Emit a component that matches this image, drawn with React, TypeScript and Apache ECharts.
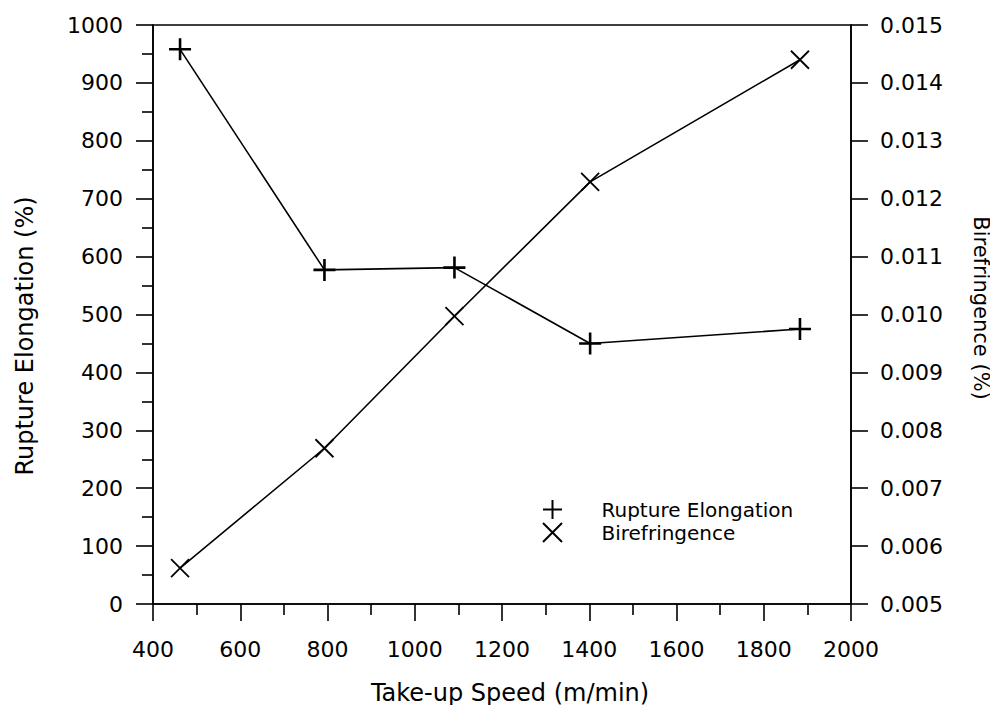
import React, { useEffect, useRef } from "react";
import * as echarts from "echarts";

// Take-up speed (m/min) for each spinning run
const speed = [462, 793, 1091, 1402, 1883];
// Rupture elongation (%) at each speed
const ruptureElongation = [958, 577, 581, 450, 475];
// Birefringence (%) at each speed
const birefringence = [0.00562, 0.00769, 0.00997, 0.01229, 0.0144];

const PLUS = "path://M0,-10 L0,10 M-10,0 L10,0";
const CROSS = "path://M-10,-10 L10,10 M-10,10 L10,-10";
const FONT = "'DejaVu Sans', sans-serif";

export default function App() {
  const ref = useRef<HTMLDivElement>(null);

  useEffect(() => {
    if (!ref.current) return;
    const chart = echarts.init(ref.current, undefined, { renderer: "svg" });
    const axisText = { color: "#000", fontSize: 22, fontFamily: FONT };
    const lineStyle = { color: "#000", width: 1.6 };
    const title = (text: string, x: number, y: number, rotation: number, size: number) => ({
      type: "text",
      x,
      y,
      rotation,
      style: {
        text,
        fill: "#000",
        font: `${size}px ${FONT}`,
        align: "center",
        verticalAlign: "middle",
      },
    });

    chart.setOption({
      animation: false,
      backgroundColor: "#fff",
      textStyle: { fontFamily: FONT },
      grid: {
        left: 153,
        right: 147,
        top: 25,
        bottom: 109,
        show: true,
        borderColor: "#000",
        borderWidth: 1.6,
        backgroundColor: "transparent",
      },
      graphic: [
        title("Take-up Speed (m/min)", 510, 693, 0, 24),
        title("Rupture Elongation (%)", 25, 336, Math.PI / 2, 24),
        title("Birefringence (%)", 981, 308, -Math.PI / 2, 21),
      ],
      legend: {
        orient: "vertical",
        left: 537,
        top: 494,
        itemWidth: 20,
        itemHeight: 19,
        itemGap: 2,
        textStyle: {
          color: "#000",
          fontSize: 20,
          lineHeight: 20,
          fontFamily: FONT,
          padding: [0, 0, 0, 34],
        },
        itemStyle: { color: "transparent", borderColor: "#000", borderWidth: 2 },
        data: [
          { name: "Rupture Elongation", icon: PLUS },
          { name: "Birefringence", icon: CROSS },
        ],
      },
      xAxis: {
        type: "value",
        min: 400,
        max: 2000,
        interval: 200,
        axisLine: { show: true, lineStyle },
        axisTick: { show: true, inside: false, length: 17, lineStyle },
        minorTick: { show: true, splitNumber: 2, length: 11, lineStyle },
        axisLabel: { ...axisText, margin: 34, formatter: (v: number) => String(v) },
        splitLine: { show: false },
      },
      yAxis: [
        {
          type: "value",
          min: 0,
          max: 1000,
          interval: 100,
          axisLine: { show: true, lineStyle },
          axisTick: { show: true, inside: false, length: 17, lineStyle },
          minorTick: { show: true, splitNumber: 2, length: 11, lineStyle },
          axisLabel: { ...axisText, margin: 30, formatter: (v: number) => String(v) },
          splitLine: { show: false },
        },
        {
          type: "value",
          position: "right",
          min: 0.005,
          max: 0.015,
          interval: 0.001,
          axisLine: { show: true, lineStyle },
          axisTick: { show: true, inside: false, length: 17, lineStyle },
          axisLabel: {
            ...axisText,
            margin: 29,
            formatter: (v: number) => v.toFixed(3),
          },
          splitLine: { show: false },
        },
      ],
      series: [
        {
          name: "Rupture Elongation",
          type: "line",
          yAxisIndex: 0,
          data: speed.map((s, i) => [s, ruptureElongation[i]]),
          symbol: PLUS,
          symbolSize: 22,
          lineStyle,
          itemStyle: { color: "transparent", borderColor: "#000", borderWidth: 2.6 },
        },
        {
          name: "Birefringence",
          type: "line",
          yAxisIndex: 1,
          data: speed.map((s, i) => [s, birefringence[i]]),
          symbol: CROSS,
          symbolSize: 18,
          lineStyle,
          itemStyle: { color: "transparent", borderColor: "#000", borderWidth: 1.8 },
        },
      ],
    });

    return () => chart.dispose();
  }, []);

  return <div ref={ref} style={{ width: 998, height: 713, margin: -8 }} />;
}
